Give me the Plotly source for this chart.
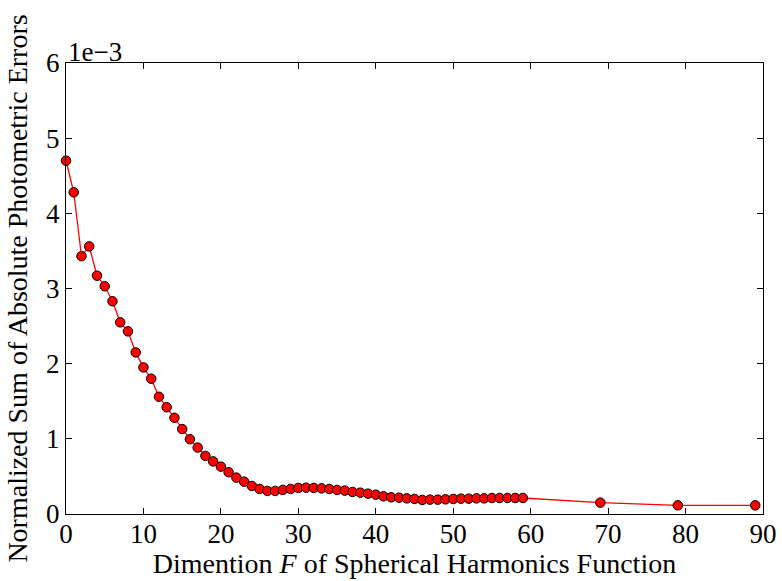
import plotly.graph_objects as go

# Dimension F
dims = list(range(0, 60)) + [69, 79, 89]
# Normalized sum of absolute photometric errors (units of 1e-3)
errors = [
    4.70, 4.28, 3.43, 3.56, 3.17, 3.03, 2.83, 2.55, 2.43, 2.15,
    1.95, 1.80, 1.56, 1.42, 1.28, 1.13, 0.995, 0.884, 0.773, 0.70,
    0.63, 0.555, 0.484, 0.43, 0.373, 0.333, 0.307, 0.307, 0.32, 0.333,
    0.347, 0.35, 0.347, 0.341, 0.333, 0.32, 0.311, 0.293, 0.284, 0.271,
    0.257, 0.235, 0.222, 0.217, 0.208, 0.20, 0.187, 0.191, 0.191, 0.195,
    0.20, 0.204, 0.204, 0.208, 0.208, 0.213, 0.213, 0.213, 0.213, 0.213,
    0.151, 0.115, 0.115,
]
x_ticks = [0, 10, 20, 30, 40, 50, 60, 70, 80, 90]
y_ticks = [0, 1, 2, 3, 4, 5, 6]

FONT = "Liberation Serif, Times New Roman, serif"
TICK_SIZE = 27
TITLE_SIZE = 28

fig = go.Figure()
fig.add_trace(go.Scatter(
    x=dims, y=errors, mode="lines+markers",
    line=dict(color="red", width=1.3),
    marker=dict(color="red", size=9.5, line=dict(color="black", width=1)),
    showlegend=False, cliponaxis=False,
))

axis_common = dict(
    showgrid=False, zeroline=False, showline=True, linecolor="black",
    linewidth=1.2, mirror="ticks", ticks="inside", ticklen=6,
    tickcolor="black", tickwidth=1, automargin=False,
    tickfont=dict(family=FONT, size=TICK_SIZE, color="black"),
)
fig.update_xaxes(range=[0, 90], tickvals=x_ticks, ticklabelstandoff=-5,
                 title=dict(text="Dimention <i>F</i> of Spherical Harmonics Function",
                            font=dict(family=FONT, size=TITLE_SIZE, color="black"), standoff=4),
                 **axis_common)
fig.update_yaxes(range=[0, 6], tickvals=y_ticks,
                 title=dict(text="Normalized Sum of Absolute Photometric Errors",
                            font=dict(family=FONT, size=TITLE_SIZE, color="black"), standoff=10),
                 **axis_common)

fig.add_annotation(text="1e\u22123", xref="paper", yref="paper", x=0, y=1,
                   xanchor="left", yanchor="bottom", showarrow=False,
                   font=dict(family=FONT, size=TICK_SIZE, color="black"), yshift=-6)

fig.update_layout(
    width=782, height=581,
    margin=dict(l=66, r=19, t=63, b=67),
    plot_bgcolor="white", paper_bgcolor="white",
    font=dict(family=FONT, color="black"),
)
fig.write_html("out.html", config={"displayModeBar": False},
               post_script="document.body.style.margin='0';document.body.style.padding='0';")
